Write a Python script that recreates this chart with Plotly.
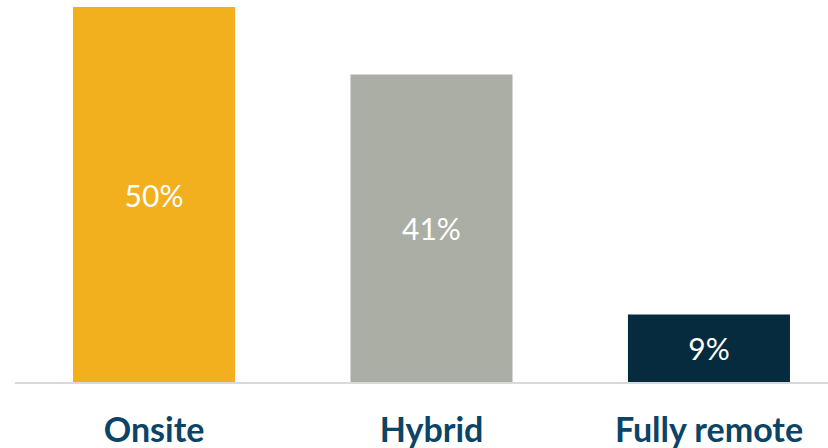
import plotly.graph_objects as go

categories = ["Onsite", "Hybrid", "Fully remote"]
shares = [50, 41, 9]
bar_colors = ["#F2B01E", "#ABAEA5", "#062B3F"]

fig = go.Figure(
    go.Bar(
        x=categories,
        y=shares,
        marker=dict(color=bar_colors, line=dict(width=0)),
        width=0.584,
        text=[f"{v}%" for v in shares],
        textposition="inside",
        insidetextanchor="middle",
        textangle=0,
        textfont=dict(family="Lato, Open Sans, sans-serif", size=30, color="white"),
        hoverinfo="skip",
    )
)

fig.update_layout(
    width=828,
    height=448,
    margin=dict(l=15, r=0, t=0, b=66),
    paper_bgcolor="white",
    plot_bgcolor="white",
    showlegend=False,
    uniformtext=dict(minsize=30, mode="show"),
)

fig.update_xaxes(
    range=[-0.501, 2.429],
    automargin=False,
    showgrid=False,
    showline=True,
    linecolor="#D9D9D9",
    linewidth=2,
    ticks="",
    ticklabelstandoff=17,
    tickfont=dict(family="Lato, Open Sans, sans-serif", size=34, color="#0B4466", weight="bold"),
)
fig.update_yaxes(
    range=[0, 50.94],
    visible=False,
    showgrid=False,
    zeroline=False,
)

fig.write_html("out.html")
